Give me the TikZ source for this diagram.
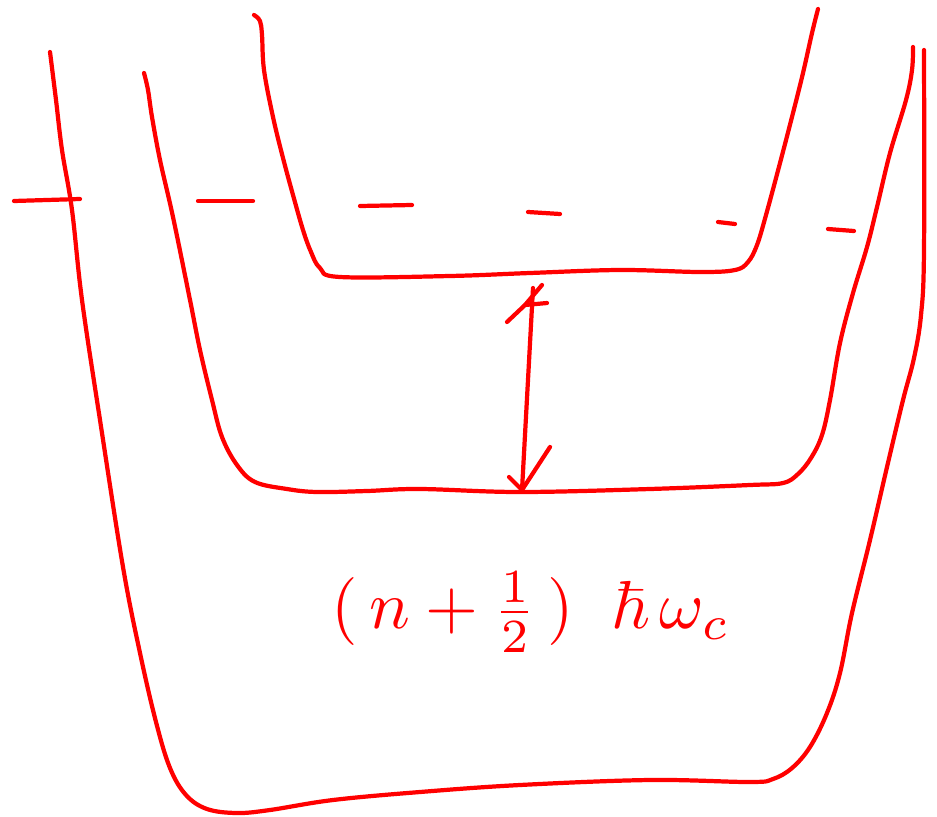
\documentclass[tikz,border=0pt]{standalone}
\usepackage{amssymb}
\usepackage{tikz}
\usetikzlibrary{arrows}

\begin{document}
\begin{tikzpicture}[x=0.03cm,y=-0.03cm,line cap=round,line join=round]
  \tikzstyle{pen}=[draw=red,
                                    line width=3.6pt]
  \tikzstyle{well}=[pen,
                                    smooth,
                                    tension=0.6]
  \tikzstyle{level_dash}=[pen]
  \tikzstyle{texto}=[text=red,
                                    scale=5.8,
                                    inner sep=0pt]
  \useasboundingbox (0,0) rectangle (937,816);
  %Pozo interior
  \draw[well] plot coordinates {(254,15) (260,21) (262,35) (264,70) (273,117) (283,158)
        (293,195) (303,230) (311,252) (320,268) (340,277) (450,276)
        (530,273) (620,270) (700,272) (735,270) (748,262) (757,245) (766,215)
        (780,163) (793,113) (803,73) (812,33) (818,9)};
  %Pozo medio
  \draw[well] plot coordinates {(144,73) (148,90) (152,117) (160,160) (173,217)
        (190,300) (200,350) (212,400) (222,437) (237,465) (255,482)
        (287,489) (317,492) (367,491) (420,489) (520,492) (650,489) (750,485)
        (783,483) (798,474) (811,458) (822,435) (830,400) (840,343)
        (853,293) (867,247) (877,207) (890,153) (906,100) (912,70) (913,47)};
  %Pozo exterior
  \draw[well] plot coordinates {(50,52) (56,100) (62,150) (72,210) (82,300)
        (100,420) (123,567) (140,653) (156,722) (170,768) (186,795) (207,809)
        (237,813) (270,810) (333,800) (420,792) (520,785) (650,780) (750,782)
        (773,779) (792,768) (810,747) (827,713) (840,673) (852,613) (870,540)
        (887,467) (903,400) (914,358) (921,315) (924,250) (924,50)};
  %Nivel a trazos
  \draw[level_dash] (14,201) -- (80,199);
  \draw[level_dash] (198,201) -- (253,201);
  \draw[level_dash] (360,206) -- (412,205);
  \draw[level_dash] (528,212) -- (560,214);
  \draw[level_dash] (718,222) -- (735,224);
  \draw[level_dash] (828,229) -- (854,231);
  %Flecha
  \coordinate (top) at (533,288);
  \coordinate (bot) at (522,490);
  \draw[pen] (top) -- (bot);
  \draw[pen] (542,285) -- (525,305);
  \draw[pen] (507,322) -- (525,305) -- (547,303);
  \draw[pen] (bot) -- ++(-13,-13);
  \draw[pen] (bot) -- ++(28,-43);
  %Energia
  \node[texto] (E) [anchor=west] at (330,612) {$(\,n+\frac{1}{2}\,)\;\;\hbar\,\omega_{c}$};
\end{tikzpicture}
\end{document}
